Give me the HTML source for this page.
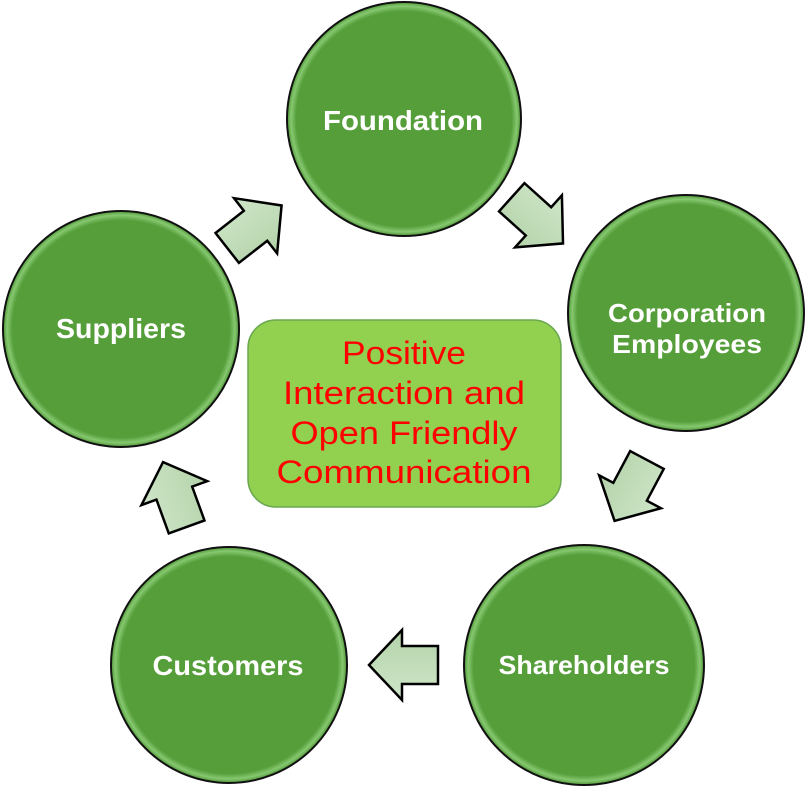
<!DOCTYPE html>
<html><head><style>
html,body{margin:0;padding:0;background:#fff;}
svg{display:block;}
</style></head><body>
<svg width="807" height="788" viewBox="0 0 807 788" xmlns="http://www.w3.org/2000/svg">
<defs>
<radialGradient id="cg" cx="50%" cy="50%" r="50%">
<stop offset="0.92" stop-color="#559e3a"/>
<stop offset="0.965" stop-color="#86c870"/>
<stop offset="1" stop-color="#4f9636"/>
</radialGradient>
<linearGradient id="ag" x1="0" y1="0" x2="0" y2="1">
<stop offset="0" stop-color="#cfe6c8"/>
<stop offset="1" stop-color="#b3d3aa"/>
</linearGradient>
<g id="arr"><polygon points="-34,-19 2,-19 2,-35 35,0 2,35 2,19 -34,19" fill="url(#ag)" stroke="#000" stroke-width="2.5" stroke-linejoin="miter"/></g>
</defs>
<g stroke="#111" stroke-width="2" fill="url(#cg)">
<circle cx="404" cy="119" r="117"/>
<circle cx="686" cy="313" r="118"/>
<circle cx="584" cy="665" r="120"/>
<circle cx="229" cy="665" r="118"/>
<circle cx="121" cy="329" r="118"/>
</g>
<use href="#arr" transform="translate(254,227) rotate(-38)"/>
<use href="#arr" transform="translate(537,220) rotate(42)"/>
<use href="#arr" transform="translate(631,490) rotate(118)"/>
<use href="#arr" transform="translate(404,665) rotate(180)"/>
<use href="#arr" transform="translate(175,495) rotate(-110)"/>
<g font-family="Liberation Sans, sans-serif" font-weight="bold" fill="#fff" font-size="28" text-anchor="middle">
<text x="403" y="130" textLength="160" lengthAdjust="spacingAndGlyphs">Foundation</text>
<text x="687" y="322" font-size="26" textLength="158" lengthAdjust="spacingAndGlyphs">Corporation</text>
<text x="687" y="353" font-size="26" textLength="150" lengthAdjust="spacingAndGlyphs">Employees</text>
<text x="584" y="674" font-size="26" textLength="171" lengthAdjust="spacingAndGlyphs">Shareholders</text>
<text x="228" y="675" textLength="151" lengthAdjust="spacingAndGlyphs">Customers</text>
<text x="121" y="338" textLength="130" lengthAdjust="spacingAndGlyphs">Suppliers</text>
</g>
<rect x="248" y="320" width="313" height="187" rx="28" fill="#92d050" stroke="#6aa84f" stroke-width="1.5"/>
<g font-family="Liberation Sans, sans-serif" fill="#ff0000" font-size="32" text-anchor="middle">
<text x="404" y="364" textLength="124" lengthAdjust="spacingAndGlyphs">Positive</text>
<text x="404" y="404" textLength="242" lengthAdjust="spacingAndGlyphs">Interaction and</text>
<text x="404" y="444" textLength="227" lengthAdjust="spacingAndGlyphs">Open Friendly</text>
<text x="404" y="483" textLength="255" lengthAdjust="spacingAndGlyphs">Communication</text>
</g>
</svg>
</body></html>
